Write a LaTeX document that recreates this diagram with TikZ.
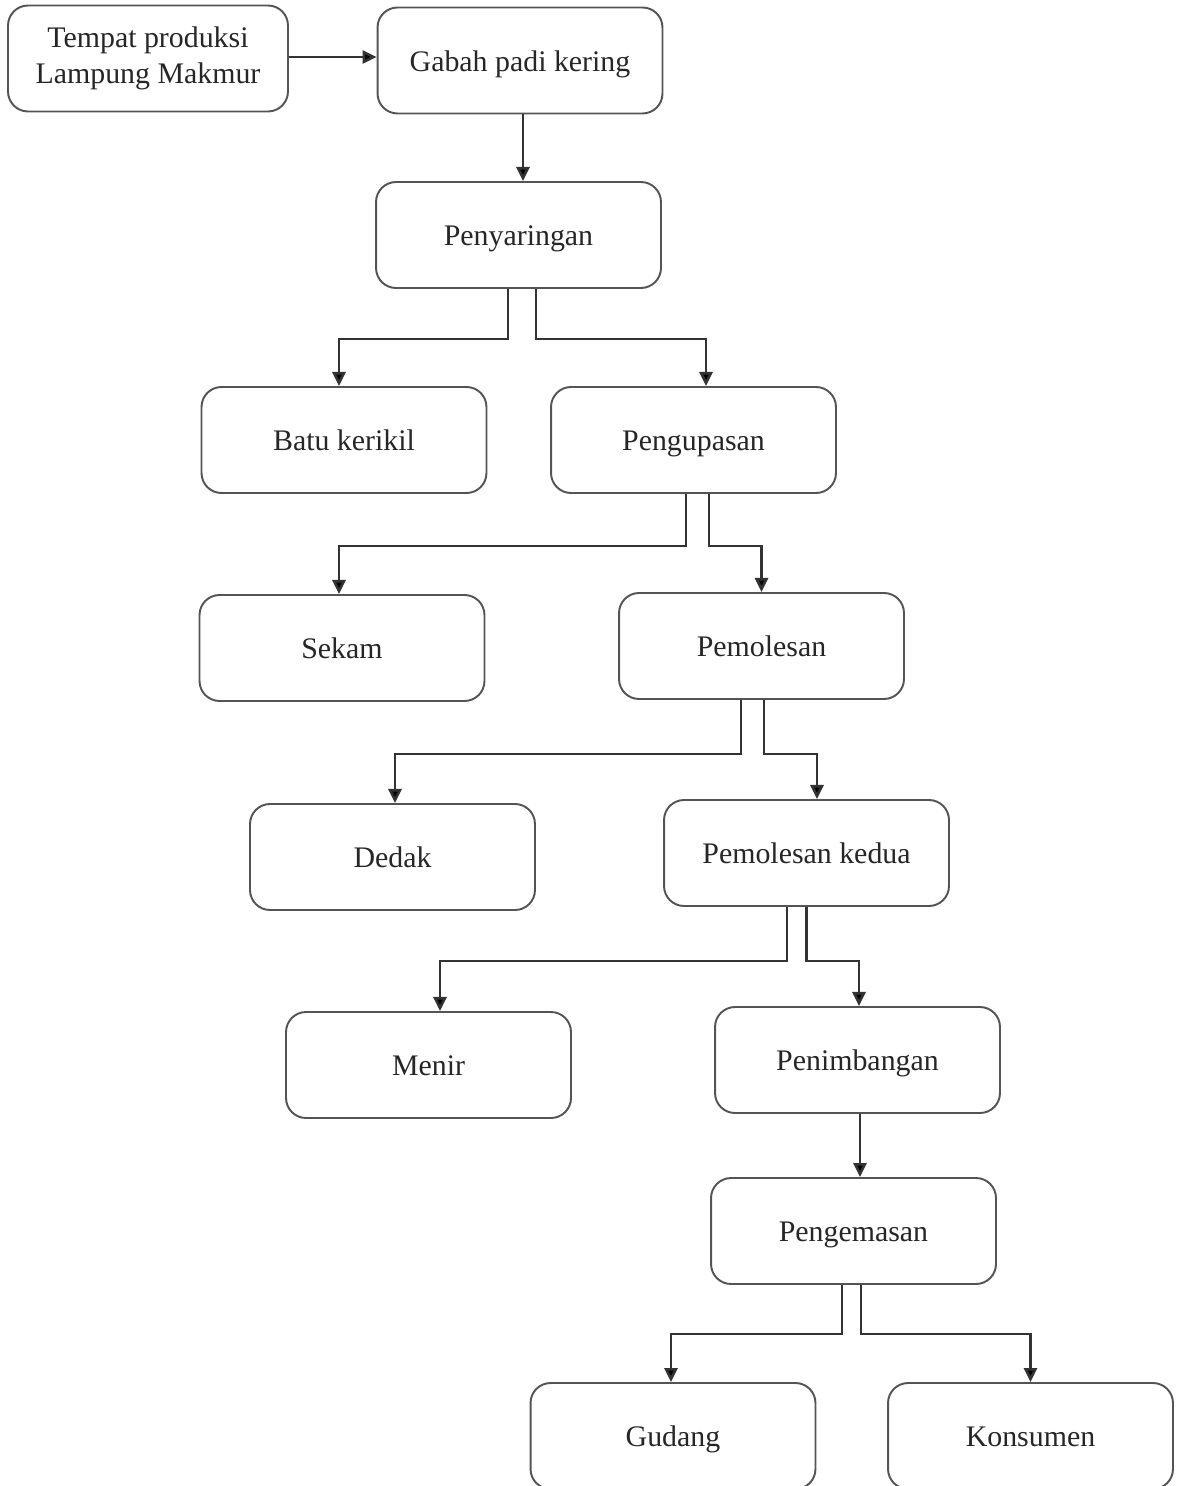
\documentclass[tikz,border=0pt]{standalone}
\usepackage{fontspec}
\setmainfont{Liberation Serif}
\usetikzlibrary{positioning,arrows.meta}
\definecolor{boxgray}{rgb}{0.33,0.33,0.33}
\definecolor{linegray}{rgb}{0.2,0.2,0.2}
\tikzset{
  proses/.style={draw=boxgray, line width=1.1pt, rounded corners=0.4cm,
    minimum width=5.7cm, minimum height=2.12cm, align=center,
    text height=16pt, text depth=3.5pt,
    font=\fontsize{17}{20.5}\selectfont, text=black!85},
  link/.style={draw=linegray, line width=1.5pt,
    -{Triangle[length=8pt,width=7.5pt,fill=black]}}
}
\begin{document}
\begin{tikzpicture}[x=0.02cm,y=-0.02cm]

\clip (0,0) rectangle (1184,1486);
% boxes
\node [proses, minimum width=5.6cm, text height=, text depth=] (tempat) at (148,58.5) {Tempat produksi\\Lampung Makmur};
\node [proses] (gabah) at (520,60.5) {Gabah padi kering};
\node [proses] (saring) at (518.5,235) {Penyaringan};
\node [proses] (batu) at (344,440) {Batu kerikil};
\node [proses] (kupas) at (693.5,440) {Pengupasan};
\node [proses] (sekam) at (342,648) {Sekam};
\node [proses] (poles) at (761.5,646) {Pemolesan};
\node [proses] (dedak) at (392.5,857) {Dedak};
\node [proses] (poles2) at (806.5,853) {Pemolesan kedua};
\node [proses] (menir) at (428.5,1065) {Menir};
\node [proses] (timbang) at (857.5,1060) {Penimbangan};
\node [proses] (kemas) at (853.5,1231) {Pengemasan};
\node [proses] (gudang) at (673,1436) {Gudang};
\node [proses] (konsumen) at (1030.5,1436) {Konsumen};
% straight arrows
\draw [link] ([yshift=0.03cm]tempat.east) -- ([yshift=0.03cm]tempat.east -| gabah.west);
\draw [link] ([xshift=0.06cm]gabah.south) -- ([xshift=0.06cm]gabah.south |- saring.north);
\draw [link] ([xshift=0.05cm]timbang.south) -- ([xshift=0.05cm]timbang.south |- kemas.north);
% splits
\draw [link] ([xshift=-0.21cm]saring.south) -- ++(0,50) -| ([xshift=-0.1cm]batu.north);
\draw [link] ([xshift=0.35cm]saring.south) -- ++(0,50) -| ([xshift=0.25cm]kupas.north);
\draw [link] ([xshift=-0.15cm]kupas.south) -- ++(0,52) -| ([xshift=-0.06cm]sekam.north);
\draw [link] ([xshift=0.31cm]kupas.south) -- ++(0,52) -| (poles.north);
\draw [link] ([xshift=-0.41cm]poles.south) -- ++(0,54) -| ([xshift=0.05cm]dedak.north);
\draw [link] ([xshift=0.05cm]poles.south) -- ++(0,54) -| ([xshift=0.21cm]poles2.north);
\draw [link] ([xshift=-0.39cm]poles2.south) -- ++(0,54) -| ([xshift=0.23cm]menir.north);
\draw [link] (poles2.south) -- ++(0,54) -| ([xshift=0.03cm]timbang.north);
\draw [link] ([xshift=-0.23cm]kemas.south) -- ++(0,49) -| ([xshift=-0.04cm]gudang.north);
\draw [link] ([xshift=0.15cm]kemas.south) -- ++(0,49) -| (konsumen.north);

\end{tikzpicture}
\end{document}
